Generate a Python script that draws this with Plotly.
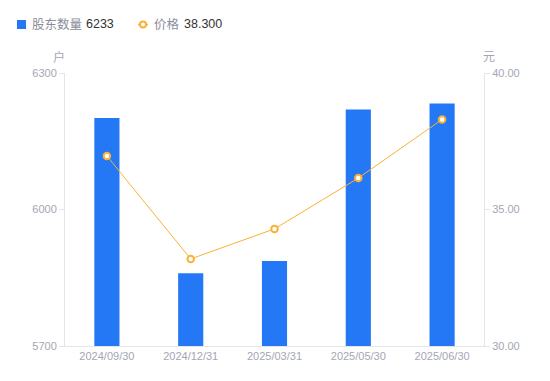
import plotly.graph_objects as go

categories = ["2024/09/30", "2024/12/31", "2025/03/31", "2025/05/30", "2025/06/30"]
holders = [6201, 5860, 5887, 6220, 6233]
price = [36.96, 33.19, 34.29, 36.15, 38.30]

left_ticks = [5700, 6000, 6300]
right_ticks = [30, 35, 40]

FONT = "Liberation Sans, Noto Sans CJK SC, sans-serif"
AX = "#A3A6B4"
LINE = "#E3E5EA"
BLUE = "#2478F5"
ORANGE = "#FAB136"

# plot area in pixels (for legend placement helpers)
L, R, T, B = 65, 484, 73, 346
def px(x):
    return (x - L) / (R - L)
def py(y):
    return (B - y) / (B - T)

fig = go.Figure()
fig.add_trace(go.Bar(
    x=categories, y=holders, name="股东数量",
    marker=dict(color=BLUE, line=dict(width=0)), width=0.3, yaxis="y", showlegend=False))
fig.add_trace(go.Scatter(
    x=categories, y=price, name="价格",
    mode="lines+markers", yaxis="y2", showlegend=False,
    line=dict(color=ORANGE, width=1),
    marker=dict(size=6.5, color="white", line=dict(color=ORANGE, width=2))))

legend_y = py(24.5)
shapes = [
    dict(type="rect", xref="paper", yref="paper", x0=px(17), x1=px(26), y0=py(29), y1=py(20),
         fillcolor=BLUE, line=dict(width=0)),
    dict(type="line", xref="paper", yref="paper", x0=px(138), x1=px(148), y0=legend_y, y1=legend_y,
         line=dict(color=ORANGE, width=1.5)),
    dict(type="circle", xref="paper", yref="paper", x0=px(140), x1=px(146), y0=py(27.5), y1=py(21.5),
         fillcolor="white", line=dict(color=ORANGE, width=2)),
]

annotations = [
    dict(text="股东数量", xref="paper", yref="paper", x=px(30), y=legend_y, xanchor="left",
         yanchor="middle", showarrow=False, font=dict(size=12.5, color="#8A8D99")),
    dict(text=str(holders[-1]), xref="paper", yref="paper", x=px(84), y=legend_y, xanchor="left",
         yanchor="middle", showarrow=False, font=dict(size=12.5, color="#333333")),
    dict(text="价格", xref="paper", yref="paper", x=px(152), y=legend_y, xanchor="left",
         yanchor="middle", showarrow=False, font=dict(size=12.5, color="#8A8D99")),
    dict(text=f"{price[-1]:.3f}", xref="paper", yref="paper", x=px(182), y=legend_y, xanchor="left",
         yanchor="middle", showarrow=False, font=dict(size=12.5, color="#333333")),
    dict(text="户", xref="paper", yref="paper", x=px(59), y=py(57), xanchor="center",
         yanchor="middle", showarrow=False, font=dict(size=12, color=AX)),
    dict(text="元", xref="paper", yref="paper", x=px(489), y=py(57), xanchor="center",
         yanchor="middle", showarrow=False, font=dict(size=12, color=AX)),
]

fig.update_layout(
    width=550, height=381,
    margin=dict(l=L, r=550 - R, t=T, b=381 - B),
    plot_bgcolor="white", paper_bgcolor="white",
    font=dict(family=FONT, size=11, color=AX),
    showlegend=False,
    xaxis=dict(type="category", showgrid=False, showline=True, linecolor=LINE,
               ticks="", tickfont=dict(size=11, color=AX), fixedrange=True),
    yaxis=dict(range=[5700, 6300], tickvals=left_ticks, showgrid=False, zeroline=False,
               showline=True, linecolor=LINE, ticks="outside", ticklen=5, tickcolor=LINE,
               tickfont=dict(size=11, color=AX)),
    yaxis2=dict(range=[30, 40], tickvals=right_ticks, tickformat=".2f", overlaying="y",
                side="right", showgrid=False, zeroline=False, showline=True, linecolor=LINE,
                ticks="outside", ticklen=5, tickcolor=LINE, tickfont=dict(size=11, color=AX)),
    shapes=shapes,
    annotations=annotations,
)

fig.write_html("out.html")
